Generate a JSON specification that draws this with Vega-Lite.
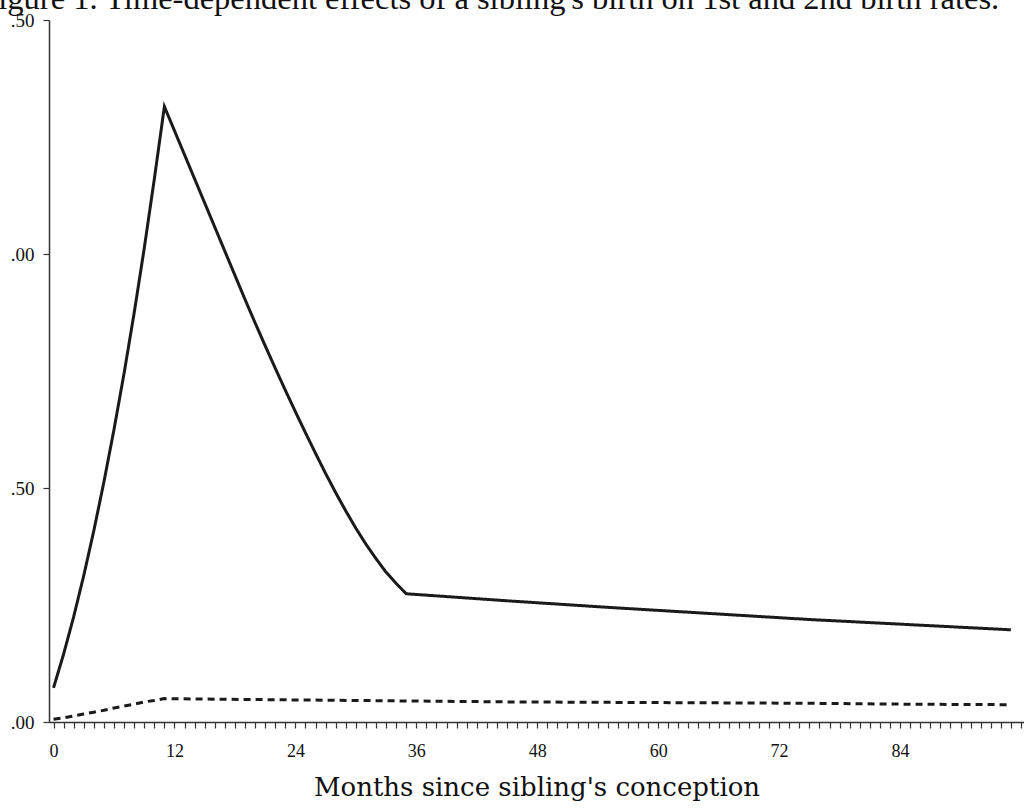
{
  "$schema": "https://vega.github.io/schema/vega-lite/v6.json",
  "autosize": "none",
  "width": 975,
  "height": 702,
  "padding": {"left": 49, "top": 20, "right": 0, "bottom": 87},
  "background": "white",
  "title": {
    "text": "Figure 1. Time-dependent effects of a sibling's birth on 1st and 2nd birth rates.",
    "anchor": "start",
    "dx": -30,
    "dy": 41,
    "offset": 11,
    "baseline": "alphabetic",
    "font": "Liberation Serif",
    "fontSize": 32.5,
    "fontWeight": "normal",
    "color": "#111111"
  },
  "config": {
    "view": {"stroke": null},
    "axis": {
      "labelFont": "Liberation Serif",
      "titleFont": "DejaVu Serif",
      "labelColor": "#111111",
      "titleColor": "#111111",
      "domainColor": "#333333",
      "tickColor": "#333333",
      "domainWidth": 1.5,
      "tickWidth": 1.2,
      "grid": false
    }
  },
  "data": {
    "values": [
      {"month": 0, "rate": 0.073, "series": "first"},
      {"month": 1, "rate": 0.145, "series": "first"},
      {"month": 2, "rate": 0.225, "series": "first"},
      {"month": 3, "rate": 0.313, "series": "first"},
      {"month": 4, "rate": 0.409, "series": "first"},
      {"month": 5, "rate": 0.513, "series": "first"},
      {"month": 6, "rate": 0.625, "series": "first"},
      {"month": 7, "rate": 0.745, "series": "first"},
      {"month": 8, "rate": 0.874, "series": "first"},
      {"month": 9, "rate": 1.012, "series": "first"},
      {"month": 10, "rate": 1.16, "series": "first"},
      {"month": 11, "rate": 1.315, "series": "first"},
      {"month": 12, "rate": 1.2635, "series": "first"},
      {"month": 13, "rate": 1.212, "series": "first"},
      {"month": 14, "rate": 1.1605, "series": "first"},
      {"month": 15, "rate": 1.109, "series": "first"},
      {"month": 16, "rate": 1.0575, "series": "first"},
      {"month": 17, "rate": 1.006, "series": "first"},
      {"month": 18, "rate": 0.9545, "series": "first"},
      {"month": 19, "rate": 0.903, "series": "first"},
      {"month": 20, "rate": 0.853, "series": "first"},
      {"month": 21, "rate": 0.804, "series": "first"},
      {"month": 22, "rate": 0.756, "series": "first"},
      {"month": 23, "rate": 0.709, "series": "first"},
      {"month": 24, "rate": 0.663, "series": "first"},
      {"month": 25, "rate": 0.618, "series": "first"},
      {"month": 26, "rate": 0.574, "series": "first"},
      {"month": 27, "rate": 0.531, "series": "first"},
      {"month": 28, "rate": 0.49, "series": "first"},
      {"month": 29, "rate": 0.451, "series": "first"},
      {"month": 30, "rate": 0.414, "series": "first"},
      {"month": 31, "rate": 0.38, "series": "first"},
      {"month": 32, "rate": 0.349, "series": "first"},
      {"month": 33, "rate": 0.32, "series": "first"},
      {"month": 34, "rate": 0.296, "series": "first"},
      {"month": 35, "rate": 0.274, "series": "first"},
      {"month": 45, "rate": 0.259, "series": "first"},
      {"month": 55, "rate": 0.245, "series": "first"},
      {"month": 65, "rate": 0.232, "series": "first"},
      {"month": 75, "rate": 0.219, "series": "first"},
      {"month": 85, "rate": 0.208, "series": "first"},
      {"month": 95, "rate": 0.197, "series": "first"},
      {"month": 0, "rate": 0.006, "series": "second"},
      {"month": 1, "rate": 0.009, "series": "second"},
      {"month": 2, "rate": 0.013, "series": "second"},
      {"month": 3, "rate": 0.017, "series": "second"},
      {"month": 4, "rate": 0.021, "series": "second"},
      {"month": 5, "rate": 0.025, "series": "second"},
      {"month": 6, "rate": 0.03, "series": "second"},
      {"month": 7, "rate": 0.034, "series": "second"},
      {"month": 8, "rate": 0.038, "series": "second"},
      {"month": 9, "rate": 0.043, "series": "second"},
      {"month": 10, "rate": 0.046, "series": "second"},
      {"month": 11, "rate": 0.05, "series": "second"},
      {"month": 15, "rate": 0.049, "series": "second"},
      {"month": 25, "rate": 0.047, "series": "second"},
      {"month": 35, "rate": 0.045, "series": "second"},
      {"month": 45, "rate": 0.043, "series": "second"},
      {"month": 55, "rate": 0.042, "series": "second"},
      {"month": 65, "rate": 0.041, "series": "second"},
      {"month": 75, "rate": 0.04, "series": "second"},
      {"month": 85, "rate": 0.038, "series": "second"},
      {"month": 95, "rate": 0.037, "series": "second"}
    ]
  },
  "mark": {"type": "line", "strokeWidth": 3, "color": "#1a1a1a", "clip": true},
  "encoding": {
    "x": {
      "field": "month",
      "type": "quantitative",
      "scale": {"domain": [-0.45, 96.3], "nice": false, "zero": false},
      "axis": {
        "title": "Months since sibling's conception",
        "titleFontSize": 26,
        "titleFontWeight": "normal",
        "titlePadding": 14,
        "values": [0,1,2,3,4,5,6,7,8,9,10,11,12,13,14,15,16,17,18,19,20,21,22,23,24,25,26,27,28,29,30,31,32,33,34,35,36,37,38,39,40,41,42,43,44,45,46,47,48,49,50,51,52,53,54,55,56,57,58,59,60,61,62,63,64,65,66,67,68,69,70,71,72,73,74,75,76,77,78,79,80,81,82,83,84,85,86,87,88,89,90,91,92,93,94,95,96],
        "labelExpr": "datum.value % 12 == 0 && datum.value < 96 ? datum.value : ''",
        "labelOverlap": false,
        "labelFontSize": 18,
        "labelPadding": 14,
        "tickSize": 6,
        "labelFlush": false
      }
    },
    "y": {
      "field": "rate",
      "type": "quantitative",
      "scale": {"domain": [0, 1.5], "nice": false},
      "axis": {
        "title": null,
        "values": [0, 0.5, 1, 1.5],
        "labelExpr": "substring(format(datum.value, '.2f'), 1)",
        "labelFontSize": 19,
        "labelPadding": 9,
        "tickSize": 6,
        "labelFlush": false
      }
    },
    "strokeDash": {
      "field": "series",
      "type": "nominal",
      "scale": {"domain": ["first", "second"], "range": [[1, 0], [7, 5]]},
      "legend": null
    }
  }
}
